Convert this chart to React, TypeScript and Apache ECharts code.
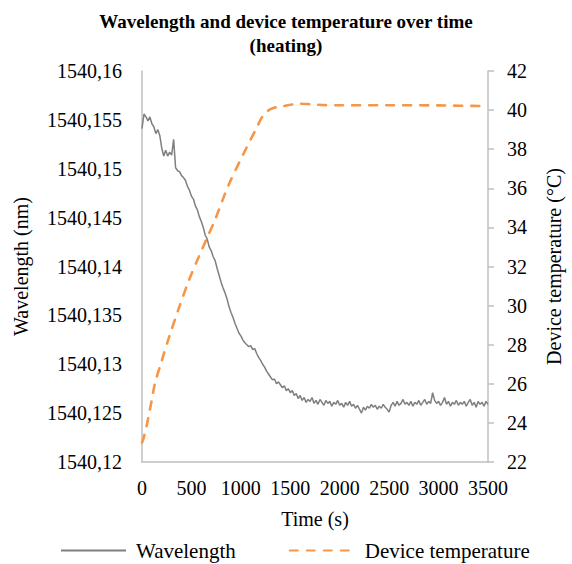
import React, { useEffect, useRef } from "react";
import * as echarts from "echarts";

const TITLE = "Wavelength and device temperature over time\n(heating)";
const X_NAME = "Time (s)";
const Y_LEFT_NAME = "Wavelength (nm)";
const Y_RIGHT_NAME = "Device temperature (°C)";
const SERIES_NAMES = ["Wavelength", "Device temperature"];

// Wavelength samples every 20 s, 0..3500 s
const wavelengthTimes: number[] = Array.from({ length: 176 }, (_, i) => i * 20);
const wavelengthNm: number[] = [
  1540.1541, 1540.1556, 1540.1553, 1540.1549, 1540.1553, 1540.1546, 1540.1543, 1540.1536, 1540.154, 1540.1534,
  1540.1521, 1540.1513, 1540.1519, 1540.1513, 1540.1517, 1540.1514, 1540.153, 1540.1501, 1540.1498, 1540.1497,
  1540.1493, 1540.1491, 1540.1488, 1540.1482, 1540.1478, 1540.1472, 1540.1469, 1540.1462, 1540.1458, 1540.1451,
  1540.1446, 1540.144, 1540.1432, 1540.1428, 1540.142, 1540.1416, 1540.141, 1540.1406, 1540.1398, 1540.1391,
  1540.1384, 1540.1378, 1540.1373, 1540.1367, 1540.1359, 1540.1353, 1540.1348, 1540.1342, 1540.1337, 1540.1332,
  1540.1329, 1540.1325, 1540.1322, 1540.132, 1540.1318, 1540.1319, 1540.1315, 1540.1316, 1540.1311, 1540.1307,
  1540.1304, 1540.13, 1540.1297, 1540.1293, 1540.129, 1540.1287, 1540.1284, 1540.1285, 1540.128, 1540.1282,
  1540.1279, 1540.1276, 1540.1278, 1540.1273, 1540.1275, 1540.1271, 1540.1273, 1540.1268, 1540.127, 1540.1265,
  1540.1268, 1540.1263, 1540.1266, 1540.1261, 1540.1264, 1540.1262, 1540.1266, 1540.126, 1540.1263, 1540.1259,
  1540.1264, 1540.1261, 1540.1258, 1540.1263, 1540.126, 1540.1262, 1540.1257, 1540.1261, 1540.1259, 1540.1263,
  1540.1258, 1540.126, 1540.1256, 1540.1261, 1540.1258, 1540.1262, 1540.1257, 1540.1259, 1540.1255, 1540.1258,
  1540.1254, 1540.125, 1540.1256, 1540.1253, 1540.1257, 1540.1255, 1540.1259, 1540.1256, 1540.1258, 1540.1254,
  1540.1257, 1540.1255, 1540.1259, 1540.1256, 1540.1254, 1540.1251, 1540.1258, 1540.1261, 1540.1257, 1540.1262,
  1540.1258, 1540.126, 1540.1264, 1540.1259, 1540.1261, 1540.1258, 1540.1262, 1540.1257, 1540.1261, 1540.1259,
  1540.1263, 1540.1258, 1540.1261, 1540.1264, 1540.1259, 1540.1262, 1540.126, 1540.1271, 1540.1263, 1540.126,
  1540.1262, 1540.1258, 1540.1261, 1540.1266, 1540.1259, 1540.1262, 1540.1257, 1540.1261, 1540.1259, 1540.1263,
  1540.1258, 1540.1261, 1540.1259, 1540.1262, 1540.1257, 1540.1261, 1540.1264, 1540.1258, 1540.1261, 1540.1256,
  1540.1262, 1540.1259, 1540.1261, 1540.1257, 1540.1262, 1540.1259,
];

const tempTimes: number[] = [
  0, 15, 40, 65, 100, 130, 195, 275, 375, 475, 575, 670, 740, 870, 1030, 1165, 1210, 1260, 1300, 1360,
  1430, 1500, 1590, 1700, 1820, 2000, 2500, 3000, 3500,
];
const tempC: number[] = [
  23.0, 23.2, 23.7, 24.3, 25.2, 26.0, 27.1, 28.4, 29.9, 31.3, 32.5, 33.6, 34.4, 36.1, 37.8, 39.15, 39.6, 39.9, 40.05, 40.15,
  40.2, 40.27, 40.33, 40.3, 40.26, 40.25, 40.25, 40.24, 40.2,
];

const FONT = "'Times New Roman', 'Liberation Serif', 'DejaVu Serif', serif";
const AXIS_GREY = "#bfbfbf";
const FS = 20;

export default function App() {
  const ref = useRef<HTMLDivElement>(null);
  useEffect(() => {
    if (!ref.current) return;
    const chart = echarts.init(ref.current, null, { renderer: "svg" });
    const fmtWl = (v: number) => {
      let s = v.toFixed(3);
      s = s.replace(/0+$/, "").replace(/\.$/, "");
      return s.replace(".", ",");
    };
    chart.setOption({
      animation: false,
      backgroundColor: "#ffffff",
      textStyle: { fontFamily: FONT, color: "#000" },
      title: {
        text: TITLE,
        left: "center",
        top: 4,
        textStyle: { fontFamily: FONT, fontWeight: "bold", fontSize: 19, lineHeight: 24, color: "#000" },
      },
      grid: { left: 142, right: 76, top: 71, bottom: 102, containLabel: false },
      legend: {
        left: 60,
        top: 540,
        padding: 0,
        itemWidth: 65,
        itemHeight: 14,
        itemGap: 53,
        itemStyle: { opacity: 0 },
        textStyle: { fontFamily: FONT, fontSize: 21, color: "#000", padding: [0, 0, 0, 5] },
        data: SERIES_NAMES,
      },
      xAxis: {
        type: "value",
        min: 0,
        max: 3500,
        interval: 500,
        name: X_NAME,
        nameLocation: "middle",
        nameGap: 47,
        nameTextStyle: { fontFamily: FONT, fontSize: FS, color: "#000" },
        axisLine: { show: true, onZero: false, lineStyle: { color: AXIS_GREY, width: 1.5 } },
        axisTick: { show: false },
        axisLabel: { fontFamily: FONT, fontSize: FS, color: "#000", margin: 16, formatter: (v: number) => String(v) },
        splitLine: { show: false },
      },
      yAxis: [
        {
          type: "value",
          position: "left",
          min: 1540.12,
          max: 1540.16,
          interval: 0.005,
          name: Y_LEFT_NAME,
          nameLocation: "middle",
          nameGap: 111,
          nameTextStyle: { fontFamily: FONT, fontSize: FS, color: "#000" },
          axisLine: { show: true, lineStyle: { color: AXIS_GREY, width: 1.5 } },
          axisTick: { show: false },
          axisLabel: { fontFamily: FONT, fontSize: FS, color: "#000", margin: 20, formatter: fmtWl },
          splitLine: { show: false },
        },
        {
          type: "value",
          position: "right",
          min: 22,
          max: 42,
          interval: 2,
          name: Y_RIGHT_NAME,
          nameLocation: "middle",
          nameGap: 56,
          nameTextStyle: { fontFamily: FONT, fontSize: FS, color: "#000" },
          axisLine: { show: true, lineStyle: { color: AXIS_GREY, width: 1.5 } },
          axisTick: { show: true, length: 6, lineStyle: { color: AXIS_GREY, width: 1.5 } },
          axisLabel: { fontFamily: FONT, fontSize: FS, color: "#000", margin: 19 },
          splitLine: { show: false },
        },
      ],
      series: [
        {
          name: SERIES_NAMES[0],
          type: "line",
          yAxisIndex: 0,
          showSymbol: false,
          symbol: "none",
          data: wavelengthTimes.map((t, i) => [t, wavelengthNm[i]]),
          lineStyle: { color: "#7f7f7f", width: 1.5 },
          itemStyle: { color: "#7f7f7f" },
          z: 3,
        },
        {
          name: SERIES_NAMES[1],
          type: "line",
          yAxisIndex: 1,
          showSymbol: false,
          symbol: "none",
          smooth: 0.3,
          data: tempTimes.map((t, i) => [t, tempC[i]]),
          lineStyle: { color: "#F79646", width: 2.6, type: [8, 9], cap: "round" },
          itemStyle: { color: "#F79646" },
          z: 2,
        },
      ],
    });
    return () => chart.dispose();
  }, []);
  return (
    <div
      ref={ref}
      style={{ position: "fixed", left: 0, top: 0, width: 572, height: 564, background: "#fff" }}
    />
  );
}
